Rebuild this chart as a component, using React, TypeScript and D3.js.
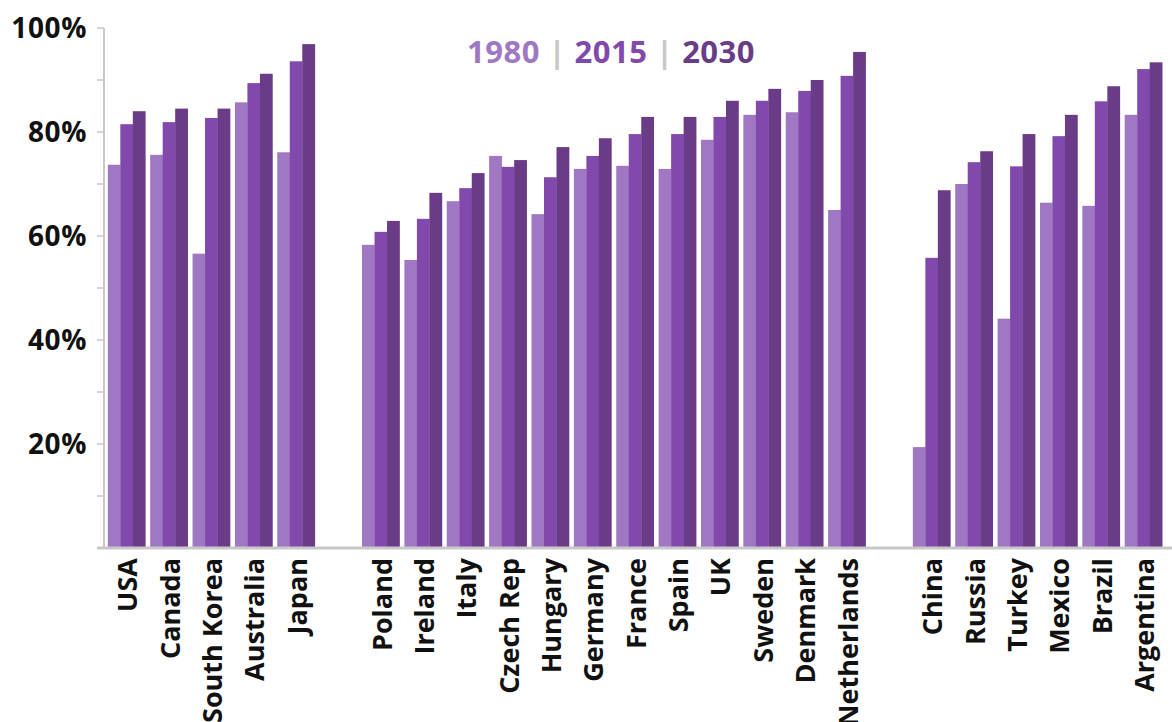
import React from "react";
import * as d3 from "d3";

const countries = [
  "USA", "Canada", "South Korea", "Australia", "Japan", "",
  "Poland", "Ireland", "Italy", "Czech Rep", "Hungary", "Germany", "France", "Spain", "UK", "Sweden", "Denmark", "Netherlands", "",
  "China", "Russia", "Turkey", "Mexico", "Brazil", "Argentina",
];
const v1980 = [73.7, 75.6, 56.6, 85.7, 76.1, null, 58.3, 55.4, 66.7, 75.4, 64.2, 72.9, 73.5, 72.9, 78.5, 83.3, 83.8, 65.0, null, 19.4, 70.0, 44.1, 66.4, 65.8, 83.3];
const v2015 = [81.5, 81.9, 82.7, 89.4, 93.6, null, 60.8, 63.3, 69.2, 73.3, 71.3, 75.4, 79.6, 79.6, 82.9, 86.0, 87.9, 90.8, null, 55.8, 74.2, 73.4, 79.2, 85.9, 92.1];
const v2030 = [84.0, 84.5, 84.5, 91.2, 96.9, null, 62.9, 68.3, 72.1, 74.6, 77.1, 78.8, 82.9, 82.9, 86.0, 88.3, 90.0, 95.4, null, 68.8, 76.3, 79.6, 83.3, 88.8, 93.4];
const seriesNames = ["1980", "2015", "2030"];
const seriesColors = ["#a077c2", "#8249ad", "#6a3c87"];
const yTickLabels = [20, 40, 60, 80, 100];
const yMinorTicks = [0, 10, 20, 30, 40, 50, 60, 70, 80, 90, 100];

const W = 1172;
const H = 722;
const FONT = "'Open Sans', 'DejaVu Sans', sans-serif";

export default function App() {
  const slots = countries.map((c, i) => `${i}:${c}`);
  const x = d3.scaleBand<string>().domain(slots).range([104, 1166]).paddingInner(0.115).paddingOuter(0.09);
  const sub = d3.scaleBand<string>().domain(seriesNames).range([0, x.bandwidth()]).padding(0);
  const y = d3.scaleLinear().domain([0, 100]).range([548, 28]);
  const series = [v1980, v2015, v2030];
  const axisColor = "#c8c8c8";

  return (
    <svg width={W} height={H} style={{ position: "absolute", left: 0, top: 0, background: "#fff" }} fontFamily={FONT}>
      {/* bars */}
      {slots.map((s, i) =>
        countries[i] === "" ? null : (
          <g key={s} transform={`translate(${x(s)},0)`}>
            {series.map((arr, k) => {
              const v = arr[i] as number;
              return (
                <rect
                  key={k}
                  x={sub(seriesNames[k])}
                  y={y(v)}
                  width={sub.bandwidth() + 0.3}
                  height={y(0) - y(v)}
                  fill={seriesColors[k]}
                />
              );
            })}
          </g>
        )
      )}
      {/* y axis */}
      <line x1={104} x2={104} y1={y(100)} y2={y(0)} stroke={axisColor} strokeWidth={2} />
      {yMinorTicks.map((t) => (
        <line key={t} x1={97} x2={104} y1={y(t)} y2={y(t)} stroke={axisColor} strokeWidth={1.5} />
      ))}
      {yTickLabels.map((t) => (
        <text key={t} x={87} y={y(t)} dy="0.36em" textAnchor="end" fontSize={28} fontWeight={700} letterSpacing={0.6} fill="#111">
          {`${t}%`}
        </text>
      ))}
      {/* x axis */}
      <line x1={97} x2={W} y1={y(0)} y2={y(0)} stroke={axisColor} strokeWidth={3} />
      {slots.map((s, i) =>
        countries[i] === "" ? null : (
          <text
            key={s}
            transform={`translate(${(x(s) as number) + x.bandwidth() / 2 + 1},558) rotate(-90)`}
            dy="0.36em"
            textAnchor="end"
            fontSize={27}
            fontWeight={700}
            fill="#111"
          >
            {countries[i]}
          </text>
        )
      )}
      {/* legend */}
      <text x={611} y={63} textAnchor="middle" fontSize={31} fontWeight={700} letterSpacing={0.5}>
        <tspan fill={seriesColors[0]}>{seriesNames[0]}</tspan>
        <tspan fill={axisColor} fontWeight={700}>{" | "}</tspan>
        <tspan fill={seriesColors[1]}>{seriesNames[1]}</tspan>
        <tspan fill={axisColor} fontWeight={700}>{" | "}</tspan>
        <tspan fill={seriesColors[2]}>{seriesNames[2]}</tspan>
      </text>
    </svg>
  );
}
